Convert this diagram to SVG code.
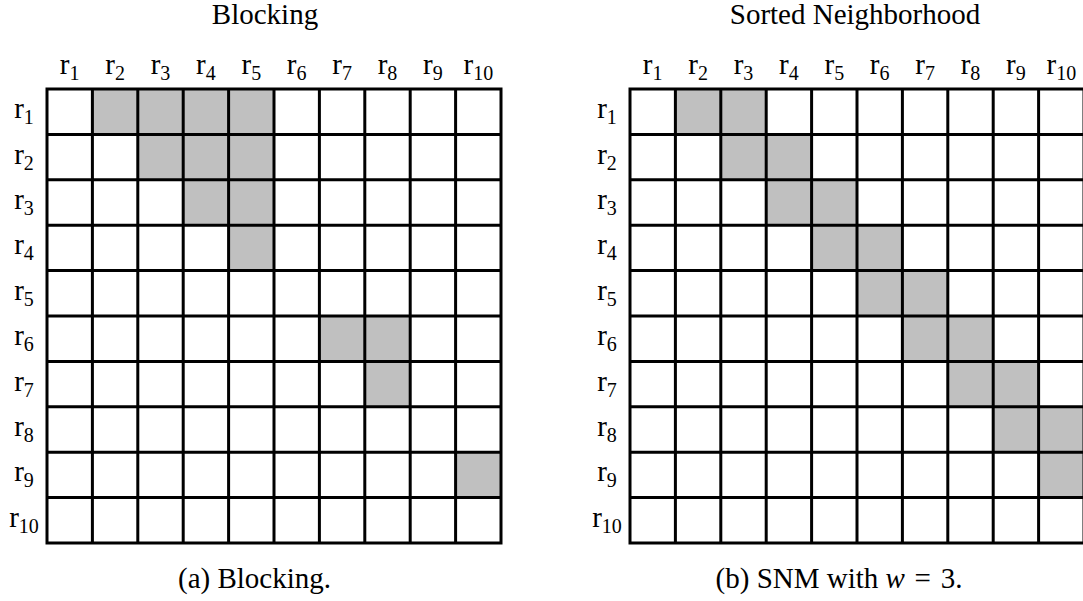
<svg xmlns="http://www.w3.org/2000/svg" width="1083" height="601" viewBox="0 0 1083 601" font-family="'Liberation Serif', 'Times New Roman', 'DejaVu Serif', serif">
  <style>
    text { font-family: 'Liberation Serif', 'Times New Roman', 'DejaVu Serif', serif; fill: #000; }
    .title { font-size: 29px; text-anchor: middle; }
    .lbl { font-size: 29px; text-anchor: middle; }
    .sub { font-size: 20px; }
    .on { fill: #c0c0c0; }
    .grid { fill: none; stroke: #000; stroke-width: 3; stroke-linecap: square; }
  </style>
  <defs>
    <!-- 10x10 grid, cell pitch 45.4 -->
    <path id="grid10" class="grid" d="M0 0V454M45.4 0V454M90.8 0V454M136.2 0V454M181.6 0V454M227 0V454M272.4 0V454M317.8 0V454M363.2 0V454M408.6 0V454M454 0V454M0 0H454M0 45.4H454M0 90.8H454M0 136.2H454M0 181.6H454M0 227H454M0 272.4H454M0 317.8H454M0 363.2H454M0 408.6H454M0 454H454"/>
    <g id="colLabels">
      <text class="lbl" x="22.7" y="-15">r<tspan class="sub" dy="6">1</tspan></text>
      <text class="lbl" x="68.1" y="-15">r<tspan class="sub" dy="6">2</tspan></text>
      <text class="lbl" x="113.5" y="-15">r<tspan class="sub" dy="6">3</tspan></text>
      <text class="lbl" x="158.9" y="-15">r<tspan class="sub" dy="6">4</tspan></text>
      <text class="lbl" x="204.3" y="-15">r<tspan class="sub" dy="6">5</tspan></text>
      <text class="lbl" x="249.7" y="-15">r<tspan class="sub" dy="6">6</tspan></text>
      <text class="lbl" x="295.1" y="-15">r<tspan class="sub" dy="6">7</tspan></text>
      <text class="lbl" x="340.5" y="-15">r<tspan class="sub" dy="6">8</tspan></text>
      <text class="lbl" x="385.9" y="-15">r<tspan class="sub" dy="6">9</tspan></text>
      <text class="lbl" x="431.3" y="-15">r<tspan class="sub" dy="6">10</tspan></text>
    </g>
    <g id="rowLabels">
      <text class="lbl" x="-23" y="29.2">r<tspan class="sub" dy="6">1</tspan></text>
      <text class="lbl" x="-23" y="74.6">r<tspan class="sub" dy="6">2</tspan></text>
      <text class="lbl" x="-23" y="120">r<tspan class="sub" dy="6">3</tspan></text>
      <text class="lbl" x="-23" y="165.4">r<tspan class="sub" dy="6">4</tspan></text>
      <text class="lbl" x="-23" y="210.8">r<tspan class="sub" dy="6">5</tspan></text>
      <text class="lbl" x="-23" y="256.2">r<tspan class="sub" dy="6">6</tspan></text>
      <text class="lbl" x="-23" y="301.6">r<tspan class="sub" dy="6">7</tspan></text>
      <text class="lbl" x="-23" y="347">r<tspan class="sub" dy="6">8</tspan></text>
      <text class="lbl" x="-23" y="392.4">r<tspan class="sub" dy="6">9</tspan></text>
      <text class="lbl" x="-23" y="437.8">r<tspan class="sub" dy="6">10</tspan></text>
    </g>
  </defs>

  <!-- (a) Blocking -->
  <g id="blocking">
    <text class="title" x="265" y="24">Blocking</text>
    <g transform="translate(47,89)">
      <g id="blocking-pairs">
        <rect class="on" x="45.4" y="0" width="45.4" height="45.4"/>
        <rect class="on" x="90.8" y="0" width="45.4" height="45.4"/>
        <rect class="on" x="136.2" y="0" width="45.4" height="45.4"/>
        <rect class="on" x="181.6" y="0" width="45.4" height="45.4"/>
        <rect class="on" x="90.8" y="45.4" width="45.4" height="45.4"/>
        <rect class="on" x="136.2" y="45.4" width="45.4" height="45.4"/>
        <rect class="on" x="181.6" y="45.4" width="45.4" height="45.4"/>
        <rect class="on" x="136.2" y="90.8" width="45.4" height="45.4"/>
        <rect class="on" x="181.6" y="90.8" width="45.4" height="45.4"/>
        <rect class="on" x="181.6" y="136.2" width="45.4" height="45.4"/>
        <rect class="on" x="272.4" y="227" width="45.4" height="45.4"/>
        <rect class="on" x="317.8" y="227" width="45.4" height="45.4"/>
        <rect class="on" x="317.8" y="272.4" width="45.4" height="45.4"/>
        <rect class="on" x="408.6" y="363.2" width="45.4" height="45.4"/>
      </g>
      <use href="#grid10"/>
      <use href="#colLabels"/>
      <use href="#rowLabels"/>
    </g>
    <text class="title" x="254.5" y="588">(a) Blocking.</text>
  </g>

  <!-- (b) Sorted Neighborhood, window w = 3 -->
  <g id="snm">
    <text class="title" x="855" y="24">Sorted Neighborhood</text>
    <g transform="translate(630,89)">
      <g id="snm-pairs">
        <rect class="on" x="45.4" y="0" width="45.4" height="45.4"/>
        <rect class="on" x="90.8" y="0" width="45.4" height="45.4"/>
        <rect class="on" x="90.8" y="45.4" width="45.4" height="45.4"/>
        <rect class="on" x="136.2" y="45.4" width="45.4" height="45.4"/>
        <rect class="on" x="136.2" y="90.8" width="45.4" height="45.4"/>
        <rect class="on" x="181.6" y="90.8" width="45.4" height="45.4"/>
        <rect class="on" x="181.6" y="136.2" width="45.4" height="45.4"/>
        <rect class="on" x="227" y="136.2" width="45.4" height="45.4"/>
        <rect class="on" x="227" y="181.6" width="45.4" height="45.4"/>
        <rect class="on" x="272.4" y="181.6" width="45.4" height="45.4"/>
        <rect class="on" x="272.4" y="227" width="45.4" height="45.4"/>
        <rect class="on" x="317.8" y="227" width="45.4" height="45.4"/>
        <rect class="on" x="317.8" y="272.4" width="45.4" height="45.4"/>
        <rect class="on" x="363.2" y="272.4" width="45.4" height="45.4"/>
        <rect class="on" x="363.2" y="317.8" width="45.4" height="45.4"/>
        <rect class="on" x="408.6" y="317.8" width="45.4" height="45.4"/>
        <rect class="on" x="408.6" y="363.2" width="45.4" height="45.4"/>
      </g>
      <use href="#grid10"/>
      <use href="#colLabels"/>
      <use href="#rowLabels"/>
    </g>
    <text class="title" x="839" y="588">(b) SNM with <tspan font-style="italic">w</tspan>&#160;&#8202;=&#160;&#8202;3.</text>
  </g>
</svg>
